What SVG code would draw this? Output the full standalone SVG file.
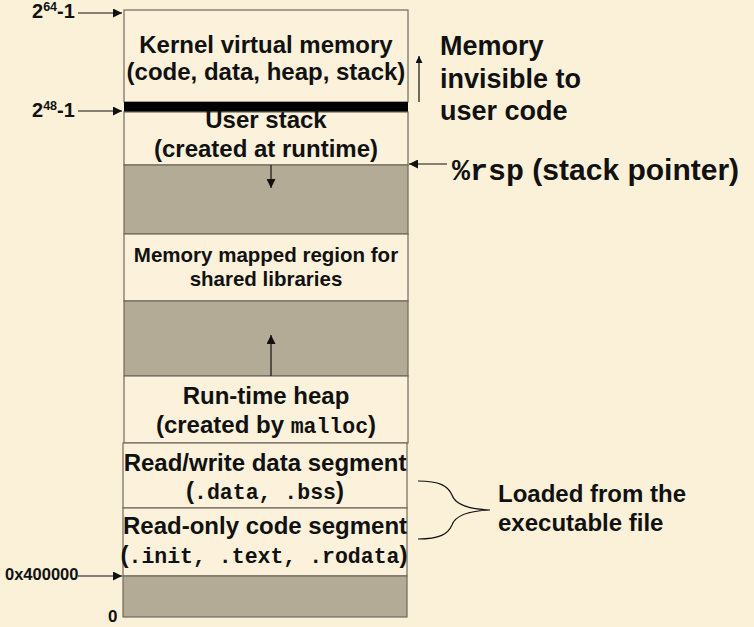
<svg xmlns="http://www.w3.org/2000/svg" width="754" height="627" viewBox="0 0 754 627">
<style>
.bg{fill:#FBF1D9}
.box{fill:#FCF2DB;stroke:#6E6A5C;stroke-width:1.2}
.gray{fill:#B4AB97;stroke:#6E6A5C;stroke-width:1.2}
.t{font-family:"Liberation Sans",Arial,sans-serif;font-weight:bold;fill:#111;text-anchor:middle}
.m{font-family:"Liberation Mono","Courier New",monospace;font-weight:bold}
.lbl{font-family:"Liberation Sans",Arial,sans-serif;font-weight:bold;fill:#111}
.ln{stroke:#111;stroke-width:1.2;fill:none}
</style>
<defs>
<marker id="ah" viewBox="0 0 10 10" refX="10" refY="5" markerWidth="7" markerHeight="7" markerUnits="userSpaceOnUse" orient="auto">
<path d="M0,0 L10,5 L0,10 z" fill="#111"/>
</marker>
<marker id="ahs" viewBox="0 0 10 10" refX="10" refY="5" markerWidth="9" markerHeight="9" markerUnits="userSpaceOnUse" orient="auto">
<path d="M0,0 L10,5 L0,10 z" fill="#111"/>
</marker>
</defs>
<rect class="bg" x="0" y="0" width="754" height="627"/>

<g id="kernel">
<rect class="box" x="124" y="10" width="284" height="92"/>
<text class="t" x="266" y="53" font-size="24">Kernel virtual memory</text>
<text class="t" x="266" y="80" font-size="24">(code, data, heap, stack)</text>
</g>
<g id="barrier">
<rect x="124" y="102" width="284" height="10" fill="#000"/>
</g>
<g id="user-stack">
<rect class="box" x="124" y="112" width="284" height="53"/>
<text class="t" x="266" y="128" font-size="24">User stack</text>
<text class="t" x="266" y="157" font-size="24">(created at runtime)</text>
</g>
<g id="gap-upper">
<rect class="gray" x="124" y="165" width="284" height="69"/>
</g>
<g id="mmap">
<rect class="box" x="124" y="234" width="284" height="67"/>
<text class="t" x="266" y="262" font-size="20.5">Memory mapped region for</text>
<text class="t" x="266" y="286" font-size="20.5">shared libraries</text>
</g>
<g id="gap-lower">
<rect class="gray" x="124" y="301" width="284" height="75"/>
</g>
<g id="heap">
<rect class="box" x="124" y="376" width="284" height="67"/>
<text class="t" x="266" y="404" font-size="24">Run-time heap</text>
<text class="t" x="266" y="433" font-size="24">(created by <tspan class="m" font-size="21.5">malloc</tspan>)</text>
</g>
<g id="data-seg">
<rect class="box" x="123" y="443" width="284" height="65"/>
<text class="t" x="265" y="471" font-size="24">Read/write data segment</text>
<text class="t" x="265" y="499" font-size="24">(<tspan class="m" font-size="21.5">.data, .bss</tspan>)</text>
</g>
<g id="code-seg">
<rect class="box" x="123" y="508" width="284" height="68"/>
<text class="t" x="265" y="534" font-size="24">Read-only code segment</text>
<text class="t" x="264" y="563" font-size="24">(<tspan class="m" font-size="21.5">.init, .text, .rodata</tspan>)</text>
</g>
<g id="unused">
<rect class="gray" x="123" y="576" width="284" height="41"/>
</g>

<g id="addr-labels">
<text class="lbl" x="32" y="18" font-size="20">2<tspan font-size="12.5" dy="-7">64</tspan><tspan dy="7">-1</tspan></text>
<text class="lbl" x="32" y="117" font-size="20">2<tspan font-size="12.5" dy="-7">48</tspan><tspan dy="7">-1</tspan></text>
<text class="lbl m" x="5" y="580" font-size="16.5" fill="#111">0x400000</text>
<text class="lbl" x="108" y="622" font-size="17">0</text>
</g>

<g id="side-labels">
<text class="lbl" x="440" y="55" font-size="27">Memory</text>
<text class="lbl" x="440" y="88" font-size="27">invisible to</text>
<text class="lbl" x="440" y="120" font-size="27">user code</text>
<text class="lbl" x="452" y="180" font-size="30"><tspan class="m" font-size="30">%rsp</tspan> (stack pointer)</text>
<text class="lbl" x="498" y="502" font-size="24">Loaded from the</text>
<text class="lbl" x="498" y="531" font-size="24">executable file</text>
</g>

<g id="connectors">
<line class="ln" x1="78" y1="13" x2="122" y2="13" marker-end="url(#ahs)"/>
<line class="ln" x1="78" y1="111" x2="122" y2="111" marker-end="url(#ahs)"/>
<line class="ln" x1="78" y1="576" x2="122" y2="576" marker-end="url(#ahs)"/>
<line class="ln" x1="419" y1="102" x2="419" y2="56" marker-end="url(#ah)"/>
<line class="ln" x1="447" y1="164" x2="409" y2="164" marker-end="url(#ahs)"/>
<line class="ln" x1="271" y1="165" x2="271" y2="188" marker-end="url(#ahs)"/>
<line class="ln" x1="271" y1="376" x2="271" y2="335" marker-end="url(#ahs)"/>
<path class="ln" stroke-width="1.8" d="M418,481 C440,481 448,486 452,495 C455,504 466,509 490,510 C466,511 455,516 452,525 C448,534 440,539 418,539"/>
</g>
</svg>
